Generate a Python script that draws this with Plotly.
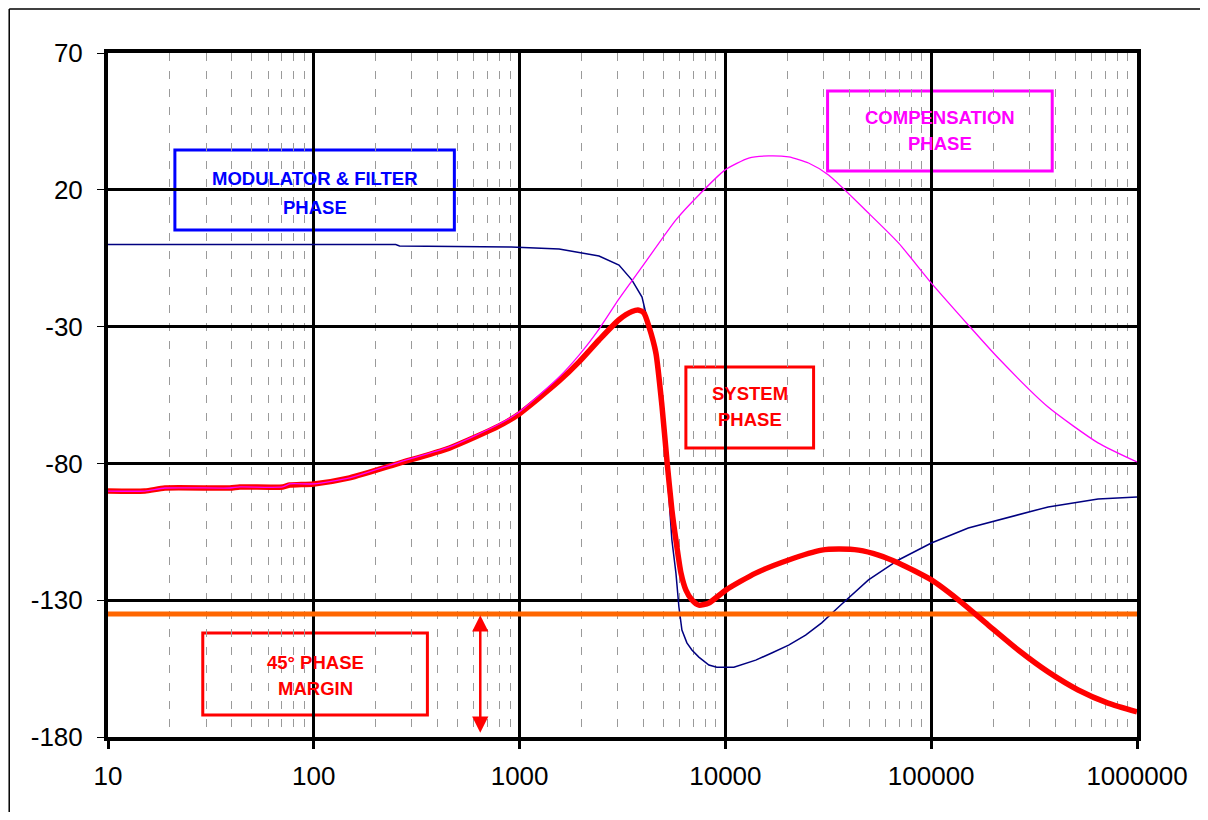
import math
import plotly.graph_objects as go

# ---------------- data ----------------
mod_freq = [10, 250, 261, 910, 1556, 2432, 3040, 3516, 3934, 4256, 4594, 4918, 5200,
            5495, 5750, 5945, 6148, 6500, 6875, 7431, 8315, 9084, 10990, 14040, 16790,
            20290, 24530, 29370, 35480, 49570, 69310, 100200, 151400, 211700, 370000,
            646700, 1000000]
mod_phase = [0.0, 0.0, -0.5, -0.9, -1.6, -4.2, -7.5, -13.0, -19.2, -30.1, -42.0, -62.0,
             -82.0, -108.0, -120.1, -132.5, -140.9, -145.6, -148.2, -150.8, -153.7,
             -154.5, -154.5, -151.9, -149.3, -146.4, -142.8, -138.3, -132.5, -122.6,
             -115.3, -109.1, -103.6, -100.7, -95.9, -93.0, -92.3]

comp_freq = [10, 15.1, 18.9, 39.1, 43.7, 70.6, 76.4, 100, 149.3, 261, 456, 796, 995,
             1556, 1945, 2432, 3040, 3934, 5750, 7431, 9936, 12980, 16220, 20290, 25350,
             31700, 49570, 69310, 100200, 151400, 211700, 370000, 646700, 1000000]
comp_phase = [-90.1, -90.1, -89.0, -89.0, -88.6, -88.6, -87.5, -87.5, -85.3, -79.5,
              -74.0, -65.6, -61.2, -48.4, -40.4, -30.9, -19.9, -8.2, 9.0, 18.1, 27.2,
              31.6, 32.4, 32.0, 29.8, 25.4, 11.5, 0.6, -14.1, -29.4, -41.5, -59.4,
              -72.5, -79.5]

sys_freq = [10, 15.1, 18.9, 39.1, 43.7, 70.6, 76.4, 100, 149.3, 261, 456, 796, 995,
            1556, 1945, 2432, 3040, 3516, 3800, 4018, 4256, 4594, 4918, 5200, 5495,
            5750, 6085, 6430, 6875, 7431, 8315, 10050, 14040, 20290, 29370, 35480,
            44360, 55460, 69310, 100200, 135500, 189300, 264700, 370000, 517600,
            723000, 1000000]
sys_phase = [-90.1, -90.1, -89.0, -89.0, -88.6, -88.6, -87.9, -87.5, -85.3, -79.9,
             -74.4, -66.3, -61.9, -49.9, -42.9, -34.9, -27.5, -24.5, -24.0, -25.0,
             -30.1, -39.6, -59.0, -79.0, -97.0, -108.0, -120.1, -126.3, -129.9,
             -131.8, -131.0, -126.3, -120.1, -115.3, -111.7, -111.3, -111.7, -113.5,
             -116.4, -122.6, -129.9, -139.1, -148.2, -156.2, -162.8, -167.6, -170.8]

margin_line = -135          # 45 degree phase margin level
arrow_freq = 644            # position of the double arrow
x_ticks = [10, 100, 1000, 10000, 100000, 1000000]
x_ticktext = ["10", "100", "1000", "10000", "100000", "1000000"]
y_ticks = [-180, -130, -80, -30, 20, 70]
y_ticktext = ["-180", "-130", "-80", "-30", "20", "70"]

FONT = "Liberation Sans, Arial, sans-serif"

fig = go.Figure()

fig.add_trace(go.Scatter(x=mod_freq, y=mod_phase, mode="lines",
                         line=dict(color="#000080", width=1.5), showlegend=False))
fig.add_trace(go.Scatter(x=[x_ticks[0], x_ticks[-1]], y=[margin_line, margin_line], mode="lines",
                         line=dict(color="#FF6600", width=5), showlegend=False))
fig.add_trace(go.Scatter(x=sys_freq, y=sys_phase, mode="lines",
                         line=dict(color="#FF0000", width=5.5, shape="spline", smoothing=0.6),
                         showlegend=False))
fig.add_trace(go.Scatter(x=comp_freq, y=comp_phase, mode="lines",
                         line=dict(color="#FF00FF", width=1.3, shape="spline", smoothing=0.6),
                         showlegend=False))

minor_vals = [m * 10 ** d for d in range(1, 6) for m in range(2, 10)]

fig.update_xaxes(type="log", range=[1, 6], tickmode="array", tickvals=x_ticks,
                 ticktext=x_ticktext, showgrid=True, gridcolor="black", gridwidth=3,
                 showline=True, linecolor="black", linewidth=4, mirror=True,
                 ticks="outside", ticklen=8, tickwidth=3, tickcolor="black",
                 ticklabelstandoff=5, zeroline=False,
                 tickfont=dict(family=FONT, size=26, color="black"),
                 minor=dict(tickmode="array", tickvals=minor_vals, showgrid=True,
                            gridcolor="#9a9a9a", gridwidth=1, griddash="8px,10px", ticks=""))
fig.update_yaxes(range=[-180, 70], tickmode="array", tickvals=y_ticks, ticktext=y_ticktext,
                 showgrid=True, gridcolor="black", gridwidth=3,
                 showline=True, linecolor="black", linewidth=4, mirror=True,
                 ticks="outside", ticklen=7, tickwidth=1, tickcolor="black",
                 ticklabelstandoff=9, zeroline=False,
                 tickfont=dict(family=FONT, size=26, color="black"))

# ---------------- label boxes ----------------
boxes = [
    # x0, x1, y0, y1 (paper), colour, lines, line y positions, x centre
    (0.0650, 0.3366, 0.7412, 0.8582, "#0000FF", ["MODULATOR &amp; FILTER", "PHASE"], [0.8158, 0.7734], 0.2008),
    (0.6993, 0.9176, 0.8275, 0.9444, "#FF00FF", ["COMPENSATION", "PHASE"], [0.9050, 0.8684], 0.8084),
    (0.5616, 0.6857, 0.4225, 0.5409, "#FF0000", ["SYSTEM", "PHASE"], [0.5015, 0.4635], 0.6237),
    (0.0921, 0.3104, 0.0322, 0.1520, "#FF0000", ["45° PHASE", "MARGIN"], [0.1096, 0.0716], 0.2013),
]
for x0, x1, y0, y1, col, lines, ys, xc in boxes:
    fig.add_shape(type="rect", xref="paper", yref="paper", x0=x0, x1=x1, y0=y0, y1=y1,
                  line=dict(color=col, width=3), fillcolor="white", layer="between")
    for txt, yy in zip(lines, ys):
        fig.add_annotation(xref="paper", yref="paper", x=xc, y=yy, text="<b>%s</b>" % txt,
                           showarrow=False, xanchor="center", yanchor="middle",
                           font=dict(family=FONT, size=18.5, color=col, weight="bold"))

# double arrow for the phase margin
fig.add_annotation(x=math.log10(arrow_freq), y=margin_line - 0.5, ax=math.log10(arrow_freq), ay=-179,
                   xref="x", yref="y", axref="x", ayref="y", text="", showarrow=True,
                   arrowhead=2, startarrowhead=2, arrowside="end+start", arrowsize=1.3,
                   startarrowsize=1.3, arrowwidth=2.5, arrowcolor="#FF0000")

# outer frame of the picture
fig.add_shape(type="line", xref="paper", yref="paper", x0=-0.0960, x1=1.1, y0=1.0643, y1=1.0643,
              line=dict(color="black", width=1.5))
fig.add_shape(type="line", xref="paper", yref="paper", x0=-0.0960, x1=-0.0960, y0=1.0643, y1=-0.2,
              line=dict(color="black", width=1.5))

fig.update_layout(width=1192, height=804, margin=dict(l=100, r=61, t=45, b=75),
                  paper_bgcolor="white", plot_bgcolor="white", showlegend=False)

fig.write_html("out.html")
